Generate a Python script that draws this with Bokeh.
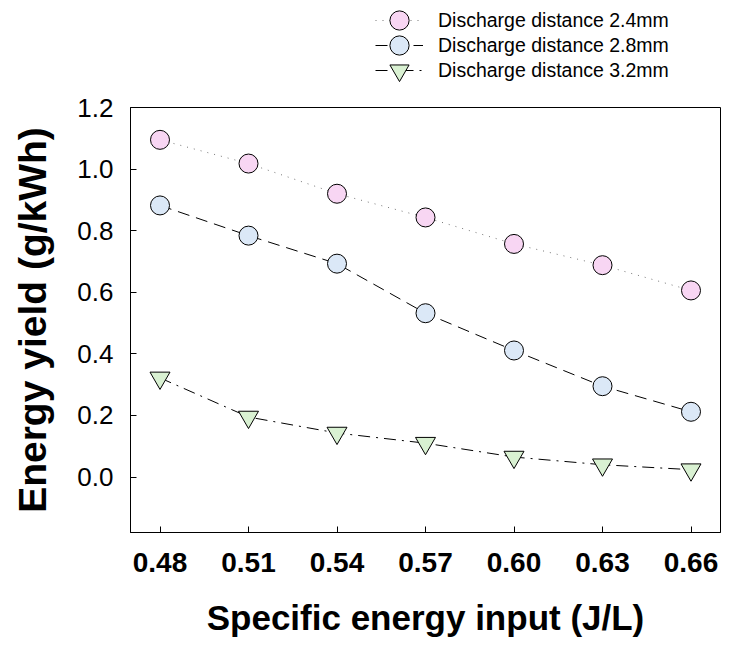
from bokeh.plotting import figure
from bokeh.layouts import column
from bokeh.models import Range1d, FixedTicker, Legend, LegendItem
from bokeh.embed import file_html
from bokeh.resources import INLINE

# ---- data ----
x_vals = [0.48, 0.51, 0.54, 0.57, 0.60, 0.63, 0.66]
y_24mm = [1.095, 1.018, 0.920, 0.843, 0.757, 0.688, 0.606]
y_28mm = [0.882, 0.784, 0.693, 0.532, 0.411, 0.295, 0.212]
y_32mm = [0.322, 0.195, 0.143, 0.110, 0.065, 0.040, 0.024]

series_labels = ["Discharge distance 2.4mm", "Discharge distance 2.8mm", "Discharge distance 3.2mm"]
x_tick_vals = [0.48, 0.51, 0.54, 0.57, 0.60, 0.63, 0.66]
x_tick_labels = ["0.48", "0.51", "0.54", "0.57", "0.60", "0.63", "0.66"]
y_tick_vals = [0.0, 0.2, 0.4, 0.6, 0.8, 1.0, 1.2]
y_tick_labels = ["0.0", "0.2", "0.4", "0.6", "0.8", "1.0", "1.2"]

FONT = "Liberation Sans"

styles = [
    dict(line_color="#777777", line_dash="1 6", marker="circle", size=19, fill_color="#f8d6f3"),
    dict(line_color="black", line_dash="12 7", marker="circle", size=19, fill_color="#dbe8f7"),
    dict(line_color="black", line_dash="12 6 2 6", marker="inverted_triangle", size=20, fill_color="#d9f1d2"),
]
series = [y_24mm, y_28mm, y_32mm]


def add_series(fig, ys, st):
    ln = fig.line(x_vals, ys, line_color=st["line_color"], line_width=1, line_dash=st["line_dash"])
    sc = fig.scatter(x_vals, ys, marker=st["marker"], size=st["size"], fill_color=st["fill_color"],
                     line_color="black", line_width=1)
    return ln, sc


# ---- main plot ----
p = figure(width=727, height=552, output_backend="svg", toolbar_location=None,
           x_range=Range1d(0.47, 0.67), y_range=Range1d(-0.18, 1.2),
           min_border_left=130, min_border_right=7, min_border_top=19, min_border_bottom=108)
p.background_fill_color = "white"
p.border_fill_color = "white"
p.outline_line_color = "black"
p.outline_line_width = 1
p.xgrid.visible = False
p.ygrid.visible = False

p.xaxis.ticker = FixedTicker(ticks=x_tick_vals)
p.yaxis.ticker = FixedTicker(ticks=y_tick_vals)
p.xaxis.major_label_overrides = dict(zip(x_tick_vals, x_tick_labels))
p.yaxis.major_label_overrides = dict(zip(y_tick_vals, y_tick_labels))
for ax in (p.xaxis, p.yaxis):
    ax.axis_line_color = "black"
    ax.axis_line_width = 1
    ax.major_tick_in = 6
    ax.major_tick_out = 0
    ax.minor_tick_line_color = None
    ax.major_tick_line_color = "black"
    ax.major_label_text_font = FONT
    ax.major_label_text_color = "black"
    ax.axis_label_text_font = FONT
    ax.axis_label_text_font_style = "bold"
    ax.axis_label_text_color = "black"

p.xaxis.axis_label = "Specific energy input (J/L)"
p.xaxis.axis_label_text_font_size = "35px"
p.xaxis.major_label_text_font_size = "28px"
p.xaxis.major_label_text_font_style = "bold"
p.xaxis.major_label_standoff = 20
p.xaxis.axis_label_standoff = 23

p.yaxis.axis_label = "Energy yield (g/kWh)"
p.yaxis.axis_label_text_font_size = "39px"
p.yaxis.major_label_text_font_size = "26px"
p.yaxis.major_label_text_font_style = "normal"
p.yaxis.major_label_standoff = 17
p.yaxis.axis_label_standoff = 20

for ys, st in zip(series, styles):
    add_series(p, ys, st)

# ---- legend strip above the plot ----
LEG_H = 88
pl = figure(width=727, height=LEG_H, output_backend="svg", toolbar_location=None,
            x_range=Range1d(0, 1), y_range=Range1d(10, 11),
            x_axis_type=None, y_axis_type=None,
            min_border_left=0, min_border_right=0, min_border_top=0, min_border_bottom=0)
pl.outline_line_color = None
pl.xgrid.visible = False
pl.ygrid.visible = False
pl.background_fill_color = "white"
pl.border_fill_color = "white"

row_centers = [20, 45, 70]   # legend row positions (px from top)
for lab, ys, st, rc in zip(series_labels, series, styles, row_centers):
    ln, sc = add_series(pl, ys, st)
    lg = Legend(items=[LegendItem(label=lab, renderers=[ln, sc])],
                location=(245, LEG_H - (rc + 24)), orientation="vertical")
    lg.label_text_font = FONT
    lg.label_text_font_size = "19.5px"
    lg.label_text_color = "black"
    lg.glyph_width = 48
    lg.glyph_height = 48
    lg.label_height = 48
    lg.label_standoff = 15
    lg.spacing = 0
    lg.padding = 0
    lg.margin = 0
    lg.border_line_color = None
    lg.background_fill_alpha = 0
    pl.add_layout(lg, "center")

layout = column(pl, p, spacing=0)
open("out.html", "w").write(file_html(layout, INLINE))
